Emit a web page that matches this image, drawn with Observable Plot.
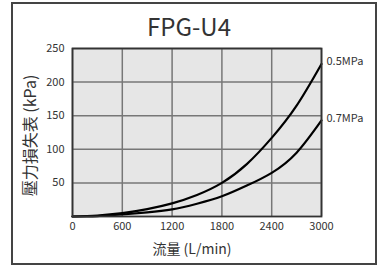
<!DOCTYPE html>
<html>
<head>
<meta charset="utf-8">
<script src="https://cdn.jsdelivr.net/npm/d3@7"></script>
<script src="https://cdn.jsdelivr.net/npm/@observablehq/plot@0.6"></script>
<style>
  html, body { margin: 0; padding: 0; background: #fff; }
  #wrap { position: relative; width: 379px; height: 265px; }
  #border { position: absolute; left: 11px; top: 2px; width: 362px; height: 259px; border: 2px solid #444; box-sizing: content-box; pointer-events: none; }
  #chart { position: absolute; left: 0; top: 0; }
</style>
</head>
<body>
<div id="wrap"><div id="chart"></div><div id="border"></div></div>
<script>
const title = "FPG-U4";
const xLabel = "流量 (L/min)";
const yLabel = "壓力損失表 (kPa)";
const flow = [0, 300, 600, 900, 1200, 1500, 1800, 2100, 2400, 2700, 3000];
const p05 = [0, 1.5, 5, 11, 19.5, 32, 50, 78, 117, 165, 227];
const p07 = [0, 0.7, 3, 6, 10.5, 19, 30, 46, 65, 95, 143];
const seriesNames = ["0.5MPa", "0.7MPa"];
const xTicks = [0, 600, 1200, 1800, 2400, 3000];
const yTicks = [50, 100, 150, 200, 250];

const rows = [];
flow.forEach((f, i) => {
  rows.push({flow: f, kpa: p05[i], s: seriesNames[0]});
  rows.push({flow: f, kpa: p07[i], s: seriesNames[1]});
});
const ends = [
  {flow: flow[flow.length - 1], kpa: p05[p05.length - 1], s: seriesNames[0]},
  {flow: flow[flow.length - 1], kpa: p07[p07.length - 1], s: seriesNames[1]}
];

const font = "'Noto Sans CJK JP', 'Noto Sans', sans-serif";

const chart = Plot.plot({
  width: 379,
  height: 265,
  marginLeft: 72,
  marginRight: 58,
  marginTop: 48,
  marginBottom: 49,
  style: {fontFamily: font, fontSize: "11px", color: "#333", background: "transparent"},
  x: {domain: [0, 3000], label: null},
  y: {domain: [0, 250], label: null},
  marks: [
    Plot.frame({fill: "#e6e6e6", stroke: null}),
    Plot.gridX(xTicks, {stroke: "#777", strokeOpacity: 1, strokeWidth: 1.5}),
    Plot.gridY(yTicks, {stroke: "#777", strokeOpacity: 1, strokeWidth: 1.5}),
    Plot.axisX(xTicks, {tickSize: 0, tickPadding: 6, fontSize: 11, fill: "#333", label: null, tickFormat: d => String(d)}),
    Plot.axisY(yTicks, {tickSize: 0, tickPadding: 8, fontSize: 11, fill: "#333", label: null, tickFormat: d => String(d)}),
    Plot.line(rows, {x: "flow", y: "kpa", z: "s", stroke: "#000", strokeWidth: 2.2, curve: "natural"}),
    Plot.frame({stroke: "#333", strokeWidth: 1.8}),
    Plot.text(ends, {x: "flow", y: "kpa", text: "s", textAnchor: "start", dx: 5, dy: -2, fontSize: 11, fill: "#333"}),
    Plot.text([title], {frameAnchor: "top", dy: -20, dx: -8, fontSize: 24, fill: "#333", lineAnchor: "middle"}),
    Plot.text([xLabel], {frameAnchor: "bottom", dy: 33, dx: -5, fontSize: 14, fill: "#333", lineAnchor: "middle"}),
    Plot.text([yLabel], {frameAnchor: "left", textAnchor: "middle", dx: -42, dy: 3, rotate: -90, fontSize: 16, fill: "#333", lineAnchor: "middle"})
  ]
});
document.getElementById("chart").appendChild(chart);
</script>
</body>
</html>
